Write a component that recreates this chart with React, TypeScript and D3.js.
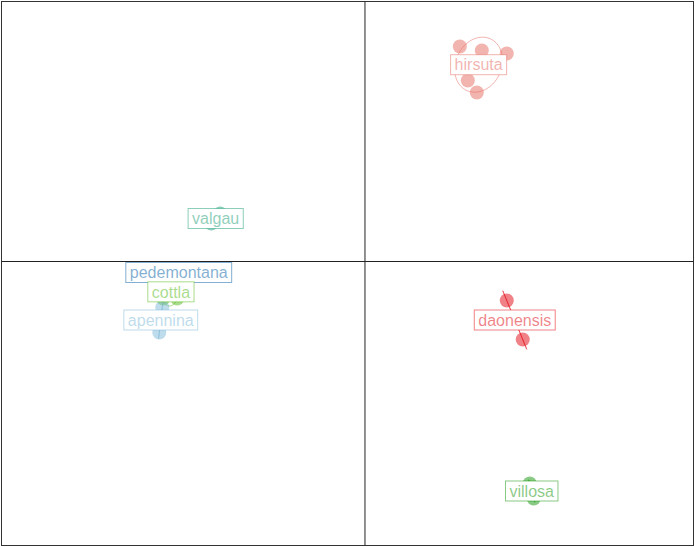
import { useEffect, useRef } from "react";
import * as d3 from "d3";

// groups and their scores on the two axes
const groups = ["hirsuta", "valgau", "pedemontana", "cottla", "apennina", "daonensis", "villosa"];
const groupColors = ["#e5695f", "#1b9e77", "#055fa5", "#55b919", "#7db9d7", "#e1050f", "#149609"];

const pointGroup = [
  "hirsuta", "hirsuta", "hirsuta", "hirsuta", "hirsuta",
  "valgau", "valgau",
  "pedemontana", "pedemontana",
  "cottla", "cottla", "cottla",
  "apennina", "apennina",
  "daonensis", "daonensis",
  "villosa", "villosa",
];
const axis1 = [
  0.95, 1.17, 1.42, 1.03, 1.12,
  -1.45, -1.54,
  -1.89, -1.84,
  -2.02, -1.88, -1.93,
  -2.03, -2.06,
  1.42, 1.58,
  1.65, 1.69,
];
const axis2 = [
  2.15, 2.11, 2.08, 1.81, 1.69,
  0.48, 0.38,
  -0.10, -0.12,
  -0.37, -0.37, -0.17,
  -0.46, -0.71,
  -0.39, -0.78,
  -2.22, -2.37,
];

const xDomain = [-3.64, 3.29];
const yDomain = [-2.84, 2.6];

export default function App() {
  const ref = useRef<SVGSVGElement>(null);

  useEffect(() => {
    document.body.style.margin = "0";
    if (!ref.current) return;
    const svg = d3.select(ref.current);
    svg.selectAll("*").remove();

    const x = d3.scaleLinear().domain(xDomain).range([1.5, 693.5]);
    const y = d3.scaleLinear().domain(yDomain).range([545.5, 1.5]);
    const color = d3.scaleOrdinal<string, string>().domain(groups).range(groupColors);

    const pts = axis1.map((v, i) => ({ g: pointGroup[i], x: v, y: axis2[i] }));

    // frame and cross through origin
    svg.append("rect")
      .attr("x", x(xDomain[0])).attr("y", y(yDomain[1]))
      .attr("width", x(xDomain[1]) - x(xDomain[0]))
      .attr("height", y(yDomain[0]) - y(yDomain[1]))
      .attr("fill", "none").attr("stroke", "#333").attr("stroke-width", 1);
    svg.append("line")
      .attr("x1", x(0)).attr("x2", x(0)).attr("y1", y(yDomain[0])).attr("y2", y(yDomain[1]))
      .attr("stroke", "#222");
    svg.append("line")
      .attr("x1", x(xDomain[0])).attr("x2", x(xDomain[1])).attr("y1", y(0)).attr("y2", y(0))
      .attr("stroke", "#222");

    // per group: centre + covariance ellipse (1.5 sd)
    const stats = groups.map((g) => {
      const p = pts.filter((d) => d.g === g);
      const mx = d3.mean(p, (d) => d.x)!;
      const my = d3.mean(p, (d) => d.y)!;
      const vx = d3.mean(p, (d) => (d.x - mx) ** 2)!;
      const vy = d3.mean(p, (d) => (d.y - my) ** 2)!;
      const cxy = d3.mean(p, (d) => (d.x - mx) * (d.y - my))!;
      return { g, mx, my, vx, vy, cxy };
    });

    const ell = svg.append("g");
    stats.forEach((s) => {
      const ptsE: [number, number][] = [];
      // cholesky of covariance
      const a = Math.sqrt(s.vx);
      const b = a > 0 ? s.cxy / a : 0;
      const c = Math.sqrt(Math.max(s.vy - b * b, 0));
      for (let k = 0; k <= 100; k++) {
        const t = (k / 100) * 2 * Math.PI;
        const u = Math.cos(t) * 1.5;
        const w = Math.sin(t) * 1.5;
        ptsE.push([x(s.mx + a * u), y(s.my + b * u + c * w)]);
      }
      ell.append("path")
        .attr("d", d3.line()(ptsE))
        .attr("fill", "none")
        .attr("stroke", color(s.g))
        .attr("stroke-opacity", 0.5)
        .attr("stroke-width", 1);
    });

    svg.append("g")
      .selectAll("circle")
      .data(pts)
      .join("circle")
      .attr("cx", (d) => x(d.x))
      .attr("cy", (d) => y(d.y))
      .attr("r", 7)
      .attr("fill", (d) => color(d.g))
      .attr("fill-opacity", 0.5);

    const labels = svg.append("g");
    stats.forEach((s) => {
      const lg = labels.append("g").attr("transform", `translate(${x(s.mx)},${y(s.my)})`);
      const rect = lg.append("rect");
      const txt = lg.append("text")
        .attr("text-anchor", "middle")
        .attr("dy", "0.36em")
        .style("font-family", "'Liberation Sans', Arial, sans-serif")
        .style("font-size", "16px")
        .attr("fill", color(s.g))
        .attr("fill-opacity", 0.5)
        .text(s.g);
      const w = (txt.node() as SVGTextElement).getComputedTextLength();
      rect.attr("x", -w / 2 - 4).attr("y", -10)
        .attr("width", w + 8).attr("height", 20)
        .attr("fill", "white")
        .attr("stroke", color(s.g))
        .attr("stroke-opacity", 0.5);
    });
  }, []);

  return <svg ref={ref} width={695} height={547} style={{ display: "block" }}></svg>;
}
